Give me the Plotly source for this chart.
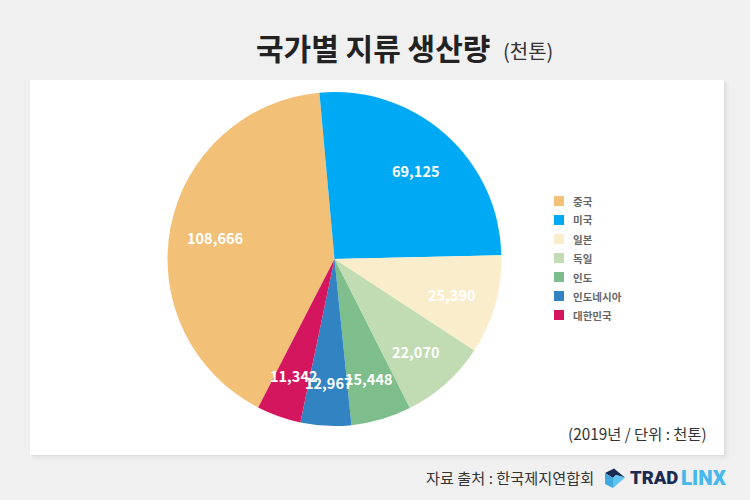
import numpy as np
import plotly.graph_objects as go

# data (천톤, 2019)
countries = ['중국', '미국', '일본', '독일', '인도', '인도네시아', '대한민국']
output = [108666, 69125, 25390, 22070, 15448, 12967, 11342]
colors = ['#F3C078', '#00A9F4', '#FAEDCB', '#C1DBB3', '#7EBE8C', '#3283C2', '#D3165E']

W, H = 750, 500
KR = 'Noto Sans CJK KR, Noto Sans, sans-serif'
CX, CY, R = 334.5, 259, 167
START = -152.8  # clockwise from 12 o'clock


def px(x):
    return x / W


def py(y):
    return 1 - y / H


fig = go.Figure(go.Pie(
    labels=countries,
    values=output,
    sort=False,
    direction='clockwise',
    rotation=START,
    marker=dict(colors=colors, line=dict(width=0)),
    textinfo='none',
    hoverinfo='label+value',
    domain=dict(x=[px(CX - R), px(CX + R)], y=[py(CY + R), py(CY - R)]),
))

annotations = []


def note(x, y, text, size, color, anchor='left', family=KR, weight=None):
    annotations.append(dict(
        x=px(x), y=py(y), xref='paper', yref='paper', text=text, showarrow=False,
        xanchor=anchor, yanchor='middle',
        font=dict(family=family, size=size, color=color, weight=weight),
        borderpad=0,
    ))


# value labels, placed from the slice mid angles
total = sum(output)
mids = START + (np.cumsum(output) - np.array(output) / 2) / total * 360
for v, a in zip(output, np.radians(mids)):
    note(CX + 0.5 + 0.73 * R * np.sin(a), CY + 2 - 0.73 * R * np.cos(a), f'<b>{v:,}</b>', 14.5, 'white', 'center')

# title
note(255, 47.5, '<b>국가별 지류 생산량</b>', 30, '#222222')
note(501.5, 51, '(천톤)', 20, '#333333')
note(708, 433, '(2019년 / 단위 : 천톤)', 15.3, '#333333', 'right')
note(595, 477, '자료 출처 : 한국제지연합회', 15.2, '#333333', 'right')

# logo wordmark
note(629, 478, 'TRAD', 18.5, '#1B2A52', 'left', 'Roboto, sans-serif', 900)
note(680, 478, 'LINX', 20.5, '#45B8EC', 'left', 'Roboto, sans-serif', 900)


def box(x0, y0, x1, y1, fill, layer='below'):
    return dict(type='rect', xref='paper', yref='paper', layer=layer,
                x0=px(x0), x1=px(x1), y0=py(y1), y1=py(y0),
                fillcolor=fill, line=dict(width=0))


def poly(points, fill):
    path = 'M ' + ' L '.join(f'{px(x):.5f},{py(y):.5f}' for x, y in points) + ' Z'
    return dict(type='path', xref='paper', yref='paper', path=path,
                fillcolor=fill, line=dict(width=0))


shapes = [
    # soft panel shadow
    box(33, 83, 729, 460, 'rgba(0,0,0,0.015)'),
    box(32, 82, 727, 458, 'rgba(0,0,0,0.025)'),
    box(31, 81, 725, 456, 'rgba(0,0,0,0.03)'),
    box(30, 80, 724, 455, 'white'),
    # logo cube
    poly([(605, 473), (614, 468.5), (625, 477.5), (616, 475), (613, 478)], '#1B2A52'),
    poly([(605, 473), (613, 478), (613, 488), (605, 484)], '#3FA9E0'),
    poly([(613, 478), (616, 475), (625, 477.5), (613, 488)], '#5CC4F0'),
]

# legend drawn by hand, the native one keeps too wide a gap to the swatch
for i, (name, color) in enumerate(zip(countries, colors)):
    y = 201 + i * 19
    shapes.append(box(554, y - 5, 564, y + 5, color, 'above'))
    note(572, y, f'<b>{name}</b>', 10.5, '#666666')

fig.update_layout(
    width=W,
    height=H,
    autosize=False,
    margin=dict(l=0, r=0, t=0, b=0),
    paper_bgcolor='#F0F0F0',
    shapes=shapes,
    annotations=annotations,
    showlegend=False,
)

# browser default body margin would push the chart 8px in
fig.write_html('out.html', config={'displayModeBar': False},
               post_script="document.body.style.margin='0';")
